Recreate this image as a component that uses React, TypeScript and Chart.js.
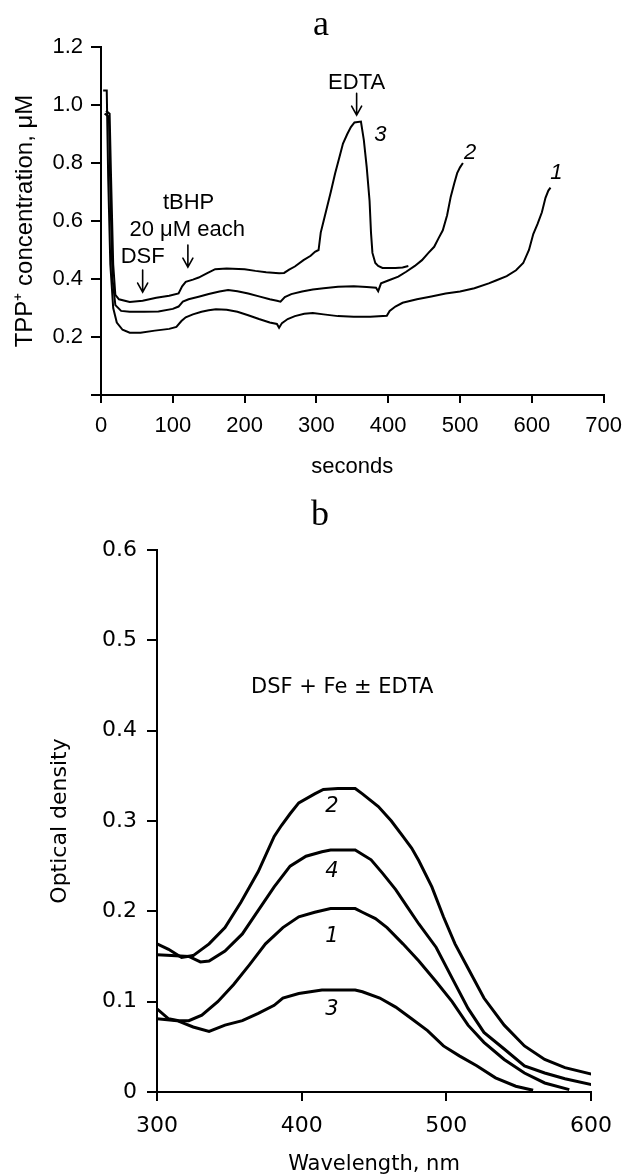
import React, { useEffect, useRef } from 'react';
import { Chart, registerables } from 'chart.js';

Chart.register(...registerables);

const SANS = "'Liberation Sans', Arial, Helvetica, sans-serif";
const WIDE = "'DejaVu Sans', 'Liberation Sans', sans-serif";
const SERIF = "'Liberation Serif', 'Times New Roman', serif";

// ---------- Panel a: TPP+ concentration vs time ----------
const aXTicks = [0, 100, 200, 300, 400, 500, 600, 700];
const aYTicks = [0, 0.2, 0.4, 0.6, 0.8, 1.0, 1.2];

// curve 1
const aT1 = [3, 8, 10, 13, 17, 22, 30, 40, 55, 75, 95, 105, 112, 118, 128, 140, 150, 160, 175, 190, 205, 220, 235, 245, 248, 252, 260, 270, 283, 295, 310, 330, 352, 375, 398, 402, 410, 420, 440, 460, 480, 500, 520, 540, 550, 565, 578, 588, 596, 602, 608, 614, 619, 623, 626];
const aC1 = [1.05, 1.05, 0.75, 0.45, 0.3, 0.25, 0.225, 0.215, 0.215, 0.222, 0.228, 0.235, 0.255, 0.268, 0.278, 0.287, 0.292, 0.296, 0.294, 0.287, 0.275, 0.262, 0.25, 0.245, 0.232, 0.248, 0.262, 0.272, 0.28, 0.283, 0.278, 0.272, 0.27, 0.27, 0.273, 0.29, 0.305, 0.318, 0.33, 0.34, 0.35, 0.357, 0.368, 0.385, 0.395, 0.41, 0.43, 0.455, 0.5, 0.555, 0.59, 0.63, 0.68, 0.705, 0.715];

// curve 2
const aT2 = [5, 11, 13, 16, 20, 28, 40, 60, 80, 100, 108, 114, 122, 136, 150, 165, 177, 190, 205, 220, 235, 245, 250, 256, 265, 280, 295, 310, 330, 352, 370, 383, 386, 390, 400, 414, 425, 437, 447, 456, 464, 470, 476, 482, 487, 492, 496, 500, 504];
const aC2 = [0.97, 0.96, 0.7, 0.4, 0.31, 0.29, 0.287, 0.287, 0.288, 0.297, 0.305, 0.322, 0.33, 0.339, 0.348, 0.357, 0.362, 0.358, 0.35, 0.34, 0.33, 0.325, 0.322, 0.338, 0.348, 0.357, 0.364, 0.368, 0.373, 0.375, 0.372, 0.37, 0.358, 0.385, 0.395, 0.408, 0.425, 0.445, 0.465, 0.49, 0.511, 0.54, 0.568, 0.62, 0.683, 0.73, 0.765, 0.785, 0.8];

// curve 3
const aT3 = [7, 12, 14, 17, 20, 25, 40, 58, 77, 95, 108, 113, 118, 128, 136, 148, 159, 175, 200, 215, 230, 248, 255, 262, 270, 282, 292, 298, 303, 306, 310, 315, 320, 326, 332, 337, 343, 348, 353, 362, 366, 370, 374, 376, 378, 382, 386, 392, 410, 420, 428];
const aC3 = [0.98, 0.97, 0.75, 0.45, 0.345, 0.33, 0.321, 0.325, 0.335, 0.342, 0.35, 0.375, 0.39, 0.398, 0.405, 0.42, 0.434, 0.436, 0.434, 0.428, 0.423, 0.42, 0.421, 0.432, 0.443, 0.465, 0.48, 0.494, 0.5, 0.56, 0.6, 0.65, 0.7, 0.764, 0.82, 0.867, 0.9, 0.924, 0.94, 0.943, 0.88, 0.787, 0.67, 0.56, 0.49, 0.455, 0.445, 0.438, 0.438, 0.44, 0.445];

const aNotes = [
  { text: 'EDTA', x: 356, y: 1.075, italic: false },
  { text: '3', x: 389, y: 0.896, italic: true },
  { text: '2', x: 514, y: 0.834, italic: true },
  { text: '1', x: 634, y: 0.765, italic: true },
  { text: 'tBHP', x: 122, y: 0.661, italic: false },
  { text: '20 μM each', x: 120, y: 0.568, italic: false },
  { text: 'DSF', x: 58, y: 0.475, italic: false },
];
// arrows: x, top value, tip value
const aArrows = [
  { x: 356, from: 1.04, to: 0.965 },
  { x: 58, from: 0.431, to: 0.355 },
  { x: 121, from: 0.517, to: 0.441 },
];

// ---------- Panel b: optical density vs wavelength ----------
const bXTicks = [300, 400, 500, 600];
const bYTicks = [0, 0.1, 0.2, 0.3, 0.4, 0.5, 0.6];

const bW1 = [300, 308, 315, 322, 331, 342, 353, 364, 375, 387, 398, 409, 420, 437, 442, 451, 459, 470, 481, 493, 504, 515, 526, 540, 554, 568, 585];
const bOD1 = [0.092, 0.081, 0.079, 0.079, 0.085, 0.1, 0.119, 0.141, 0.164, 0.182, 0.194, 0.199, 0.203, 0.203, 0.199, 0.192, 0.182, 0.164, 0.145, 0.122, 0.1, 0.074, 0.055, 0.036, 0.021, 0.01, 0.0026];

const bW2 = [300, 308, 317, 325, 336, 347, 358, 370, 381, 386, 392, 398, 409, 415, 425, 437, 442, 453, 462, 470, 476, 481, 490, 498, 506, 515, 526, 540, 554, 568, 582, 601];
const bOD2 = [0.164, 0.158, 0.149, 0.151, 0.164, 0.182, 0.21, 0.244, 0.283, 0.295, 0.308, 0.32, 0.33, 0.335, 0.336, 0.336, 0.33, 0.316, 0.3, 0.283, 0.27, 0.256, 0.227, 0.194, 0.164, 0.137, 0.104, 0.074, 0.051, 0.036, 0.027, 0.0195];

const bW3 = [300, 314, 325, 336, 347, 359, 370, 381, 387, 398, 414, 437, 442, 454, 465, 476, 487, 498, 509, 521, 534, 548, 560];
const bOD3 = [0.081, 0.079, 0.072, 0.067, 0.074, 0.079, 0.087, 0.096, 0.104, 0.109, 0.113, 0.113, 0.111, 0.104, 0.094, 0.081, 0.068, 0.051, 0.04, 0.029, 0.0157, 0.0064, 0.002];

const bW4 = [300, 310, 322, 330, 336, 347, 359, 370, 381, 392, 403, 414, 420, 437, 448, 456, 465, 473, 481, 493, 504, 515, 526, 540, 554, 568, 582, 601];
const bOD4 = [0.152, 0.151, 0.15, 0.144, 0.145, 0.156, 0.175, 0.201, 0.227, 0.25, 0.261, 0.266, 0.268, 0.268, 0.257, 0.242, 0.224, 0.205, 0.186, 0.16, 0.126, 0.0925, 0.066, 0.0476, 0.029, 0.021, 0.0146, 0.008];

const bNotes = [
  { text: 'DSF + Fe ± EDTA', x: 428, y: 0.448, italic: false },
  { text: '2', x: 421, y: 0.316, italic: true },
  { text: '4', x: 421, y: 0.244, italic: true },
  { text: '1', x: 421, y: 0.172, italic: true },
  { text: '3', x: 421, y: 0.091, italic: true },
];

const zip = (xs: number[], ys: number[]) => xs.map((x, i) => ({ x, y: ys[i] }));

function makeNotes(items: any[], arrows: any[], font: { family: string; size: number }, panel: { text: string; px: number; py: number }) {
  return {
    id: 'notes',
    afterDatasetsDraw(chart: any) {
      const { ctx } = chart;
      const xs = chart.scales.x;
      const ys = chart.scales.y;
      ctx.save();
      ctx.fillStyle = '#000';
      ctx.strokeStyle = '#000';
      ctx.textAlign = 'center';
      ctx.textBaseline = 'middle';
      for (const n of items) {
        ctx.font = `${n.italic ? 'italic ' : ''}${font.size}px ${font.family}`;
        ctx.fillText(n.text, xs.getPixelForValue(n.x), ys.getPixelForValue(n.y));
      }
      ctx.lineWidth = 1.6;
      ctx.lineCap = 'round';
      for (const a of arrows) {
        const px = xs.getPixelForValue(a.x);
        const y0 = ys.getPixelForValue(a.from);
        const y1 = ys.getPixelForValue(a.to);
        ctx.beginPath();
        ctx.moveTo(px, y0);
        ctx.lineTo(px, y1);
        ctx.moveTo(px - 5, y1 - 9);
        ctx.lineTo(px, y1);
        ctx.lineTo(px + 5, y1 - 9);
        ctx.stroke();
      }
      ctx.font = `36px ${SERIF}`;
      ctx.textBaseline = 'alphabetic';
      ctx.fillText(panel.text, panel.px, panel.py);
      ctx.restore();
    },
  };
}

function axis(opts: any) {
  return {
    type: 'linear',
    min: opts.min,
    max: opts.max,
    afterBuildTicks: (s: any) => {
      s.ticks = opts.ticks.map((value: number) => ({ value }));
    },
    afterFit: opts.afterFit,
    ticks: {
      color: '#000',
      font: { size: opts.tickSize, family: opts.family },
      padding: opts.pad,
      maxRotation: 0,
      autoSkip: false,
      callback: opts.fmt,
    },
    grid: {
      display: true,
      drawOnChartArea: false,
      drawTicks: true,
      tickLength: opts.tickLength,
      color: '#000',
      lineWidth: 2,
    },
    border: { display: true, color: '#000', width: 2 },
    title: {
      display: true,
      text: opts.title,
      color: '#000',
      font: { size: opts.titleSize, family: opts.family, lineHeight: opts.titleLH || 1.2 },
      padding: opts.titlePad,
    },
  };
}

function lineSet(data: any[], width: number) {
  return {
    data,
    borderColor: '#000',
    borderWidth: width,
    pointRadius: 0,
    tension: 0,
    fill: false,
  };
}

function configA(): any {
  return {
    type: 'line',
    data: {
      datasets: [
        lineSet(zip(aT1, aC1), 2),
        lineSet(zip(aT2, aC2), 2),
        lineSet(zip(aT3, aC3), 2),
      ],
    },
    options: {
      responsive: false,
      animation: false,
      layout: { padding: { left: 0, right: 22, top: 47, bottom: 0 } },
      plugins: { legend: { display: false }, tooltip: { enabled: false } },
      scales: {
        x: axis({
          min: 0, max: 700, ticks: aXTicks, pad: 10, tickLength: 8,
          family: SANS, tickSize: 22, titleSize: 22,
          fmt: (v: number) => String(v),
          title: 'seconds',
          titlePad: { top: 0, bottom: 10 },
          afterFit: (s: any) => { s.height = 95; },
        }),
        y: axis({
          min: 0, max: 1.2, ticks: aYTicks, pad: 8, tickLength: 10,
          family: SANS, tickSize: 22, titleSize: 24,
          fmt: (v: number) => (Math.abs(v) < 1e-9 ? '' : v.toFixed(1)),
          title: 'TPP⁺ concentration, μM',
          titlePad: { top: 11, bottom: 0 },
          afterFit: (s: any) => { s.width = 101; },
        }),
      },
    },
    plugins: [makeNotes(aNotes, aArrows, { family: SANS, size: 22 }, { text: 'a', px: 321, py: 35 })],
  };
}

function configB(): any {
  return {
    type: 'line',
    data: {
      datasets: [
        lineSet(zip(bW1, bOD1), 3),
        lineSet(zip(bW2, bOD2), 3),
        lineSet(zip(bW3, bOD3), 3),
        lineSet(zip(bW4, bOD4), 3),
      ],
    },
    options: {
      responsive: false,
      animation: false,
      layout: { padding: { left: 0, right: 41, top: 60, bottom: 0 } },
      plugins: { legend: { display: false }, tooltip: { enabled: false } },
      scales: {
        x: axis({
          min: 300, max: 600, ticks: bXTicks, pad: 12, tickLength: 9,
          family: WIDE, tickSize: 22, titleSize: 21, titleLH: 1.0,
          fmt: (v: number) => String(v),
          title: 'Wavelength, nm',
          titlePad: { top: 0, bottom: 0 },
          afterFit: (s: any) => { s.height = 83; },
        }),
        y: axis({
          min: 0, max: 0.6, ticks: bYTicks, pad: 10, tickLength: 10,
          family: WIDE, tickSize: 22, titleSize: 22,
          fmt: (v: number) => (Math.abs(v) < 1e-9 ? '0' : v.toFixed(1)),
          title: 'Optical density',
          titlePad: { top: 47, bottom: 0 },
          afterFit: (s: any) => { s.width = 157; },
        }),
      },
    },
    plugins: [makeNotes(bNotes, [], { family: WIDE, size: 21 }, { text: 'b', px: 320, py: 35 })],
  };
}

function ChartCanvas({ top, height, make }: { top: number; height: number; make: () => any }) {
  const ref = useRef<HTMLCanvasElement>(null);
  useEffect(() => {
    if (!ref.current) return;
    const chart = new Chart(ref.current, make());
    return () => chart.destroy();
  }, []);
  return (
    <canvas
      ref={ref}
      width={632}
      height={height}
      style={{ position: 'absolute', left: 0, top, width: 632, height }}
    />
  );
}

export default function App() {
  return (
    <div style={{ position: 'absolute', left: 0, top: 0, width: 632, height: 1175, background: '#fff', overflow: 'hidden' }}>
      <ChartCanvas top={0} height={490} make={configA} />
      <ChartCanvas top={490} height={685} make={configB} />
    </div>
  );
}
